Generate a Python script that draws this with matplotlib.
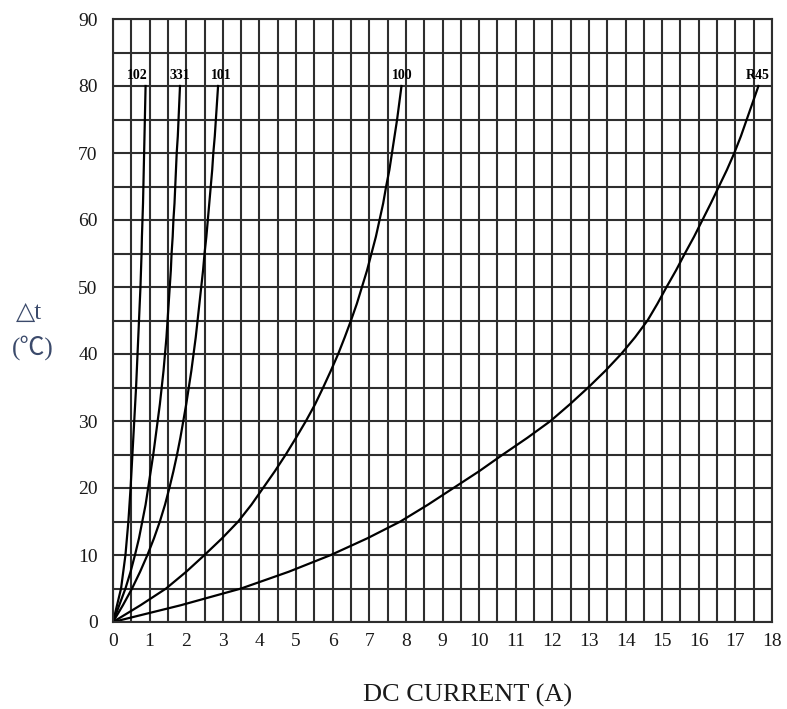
import matplotlib
matplotlib.use("Agg")
import matplotlib.pyplot as plt
import numpy as np

# Temperature rise (deg C) levels, every 2.5
dt = [0, 2.5, 5, 7.5, 10, 12.5, 15, 17.5, 20, 22.5, 25, 27.5, 30, 32.5, 35, 37.5,
      40, 42.5, 45, 47.5, 50, 52.5, 55, 57.5, 60, 62.5, 65, 67.5, 70, 72.5, 75, 77.5, 80]

# DC current (A) read for each series at the temperature levels above
i_102 = [0, 0.11, 0.22, 0.28, 0.34, 0.38, 0.42, 0.45, 0.48, 0.505, 0.53, 0.555, 0.58, 0.605,
         0.63, 0.65, 0.67, 0.69, 0.71, 0.73, 0.75, 0.765, 0.78, 0.79, 0.805, 0.82, 0.83,
         0.84, 0.85, 0.86, 0.87, 0.88, 0.89]
i_331 = [0, 0.17, 0.34, 0.48, 0.60, 0.71, 0.80, 0.89, 0.96, 1.03, 1.10, 1.16, 1.22, 1.28,
         1.33, 1.38, 1.42, 1.46, 1.49, 1.52, 1.55, 1.58, 1.60, 1.63, 1.65, 1.68, 1.70,
         1.72, 1.74, 1.77, 1.79, 1.81, 1.83]
i_101 = [0, 0.27, 0.52, 0.74, 0.94, 1.12, 1.28, 1.42, 1.54, 1.65, 1.75, 1.84, 1.92, 2.00,
         2.07, 2.14, 2.20, 2.26, 2.31, 2.36, 2.41, 2.46, 2.50, 2.55, 2.59, 2.63, 2.67,
         2.71, 2.74, 2.78, 2.81, 2.84, 2.87]
i_100 = [0, 0.75, 1.45, 2.00, 2.50, 2.98, 3.42, 3.78, 4.10, 4.42, 4.72, 5.00, 5.27, 5.52,
         5.74, 5.95, 6.15, 6.33, 6.50, 6.66, 6.80, 6.94, 7.06, 7.18, 7.28, 7.38, 7.46,
         7.55, 7.62, 7.69, 7.76, 7.82, 7.88]
i_R45 = [0, 1.85, 3.50, 4.80, 5.95, 6.95, 7.85, 8.60, 9.30, 10.00, 10.65, 11.32, 11.95, 12.48,
         12.98, 13.45, 13.88, 14.26, 14.60, 14.87, 15.12, 15.38, 15.62, 15.87, 16.10, 16.33,
         16.55, 16.77, 16.97, 17.15, 17.31, 17.47, 17.63]

series_names = ["102", "331", "101", "100", "R45"]
series_vals = [i_102, i_331, i_101, i_100, i_R45]
label_dx = [-0.23, 0.0, 0.08, 0.02, -0.03]

x_ticks = list(range(0, 19))
y_ticks = list(range(0, 91, 10))

serif = ["Liberation Serif", "DejaVu Serif"]

fig = plt.figure(figsize=(7.87, 7.09), dpi=100)
ax = fig.add_axes([113/787, 1 - 622/709, (772 - 113)/787, (622 - 19)/709])

ax.set_xlim(0, 18)
ax.set_ylim(0, 90)
ax.set_xticks(x_ticks)
ax.set_xticks(np.arange(0.5, 18, 1.0), minor=True)
ax.set_yticks(y_ticks)
ax.set_yticks(np.arange(5, 90, 10), minor=True)
ax.grid(True, which="both", color="#2e2e2e", linewidth=1.5)
ax.set_axisbelow(True)
ax.tick_params(which="both", length=0)
ax.tick_params(axis="x", pad=8)
ax.tick_params(axis="y", pad=11)
for lab in ax.get_xticklabels() + ax.get_yticklabels():
    lab.set_fontfamily(serif)
    lab.set_fontsize(14)
    lab.set_color("#1a1a1a")
for sp in ax.spines.values():
    sp.set_color("#2e2e2e")
    sp.set_linewidth(1.5)

for name, vals, dx in zip(series_names, series_vals, label_dx):
    ax.plot(vals, dt, color="black", linewidth=1.6, solid_joinstyle="round")
    ax.text(vals[-1] + dx, dt[-1] + 0.6, name, ha="center", va="bottom",
            fontsize=10, fontweight="bold", family=serif, color="black")

fig.text(468/787, 1 - 695/709, "DC CURRENT (A)", ha="center", va="center",
         fontsize=19, family=serif, color="#1a1a1a")

fig.text(29/787, 1 - 313/709, "\u25b3t", ha="center", va="center",
         fontsize=18, family=["Liberation Serif", "DejaVu Sans"], color="#3b4a6b")
fig.text(33/787, 1 - 348/709, "(\u2103)", ha="center", va="center",
         fontsize=18, family=["Liberation Serif", "Noto Sans CJK SC", "DejaVu Sans"],
         color="#3b4a6b")

fig.savefig("out.png", dpi=100)
